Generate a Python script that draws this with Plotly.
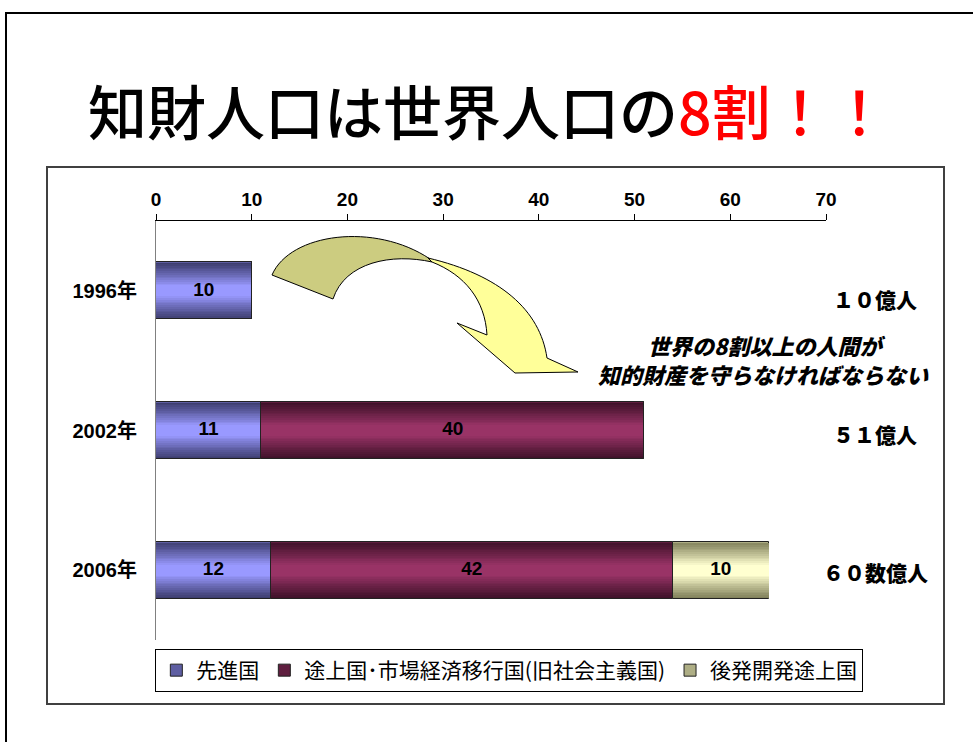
import plotly.graph_objects as go

# ---- data -------------------------------------------------------------
years = ["1996年", "2002年", "2006年"]
series_names = ["先進国", "途上国･市場経済移行国(旧社会主義国)", "後発開発途上国"]
developed = [10, 11, 12]
developing = [0, 40, 42]
least_developed = [0, 0, 10]
totals_text = ["１０億人", "５１億人", "６０数億人"]
tick_vals = [0, 10, 20, 30, 40, 50, 60, 70]

title_black = "知財人口は世界人口の"
title_red = "8割！！"
message_lines = ["世界の8割以上の人間が", "知的財産を守らなければならない"]

# ---- styling ----------------------------------------------------------
W, H = 973, 742
L, R, T, B = 156, 826, 221, 640          # plot-area pixel bounds
edge_cols = [(62, 62, 112), (64, 18, 42), (130, 130, 92)]
mid_cols = [(153, 153, 255), (153, 51, 102), (255, 255, 208)]
BAR_W = 0.41
N_LAYERS = 16
CJK = "Noto Sans CJK JP"
LATIN = "Liberation Sans, Noto Sans CJK JP"


def px(xp):
    return (xp - L) / (R - L)


def py(yp):
    return (B - yp) / (B - T)


def mix(a, b, t):
    return "rgb({},{},{})".format(*[round(a[i] + (b[i] - a[i]) * t) for i in range(3)])


def ramp(s):
    return min(1.0, s / 0.8) ** 1.1


fig = go.Figure()

series_vals = [developed, developing, least_developed]
bases = []
running = [0] * len(years)
for vals in series_vals:
    bases.append(list(running))
    running = [running[i] + vals[i] for i in range(len(years))]

# stacked bars, each drawn as nested bands to give a shaded cylinder look
for si, (name, vals) in enumerate(zip(series_names, series_vals)):
    for k in range(N_LAYERS):
        s = k / N_LAYERS
        t = 0.35 if k == 0 else ramp(s)
        fig.add_trace(go.Bar(
            y=years, x=vals, base=bases[si], orientation="h",
            width=BAR_W * (1 - s),
            marker=dict(color=mix(edge_cols[si], mid_cols[si], t),
                        line=dict(color="#222222", width=1 if k == 0 else 0)),
            name=name, legendgroup=name, showlegend=(k == 0),
            hoverinfo="skip",
        ))
        if k == 0:
            # darkest rim just inside the outline
            fig.add_trace(go.Bar(
                y=years, x=vals, base=bases[si], orientation="h",
                width=BAR_W * (1 - 0.5 / N_LAYERS) - 0.002,
                marker=dict(color=mix(edge_cols[si], mid_cols[si], 0.0), line=dict(width=0)),
                legendgroup=name, showlegend=False, hoverinfo="skip",
            ))

# value labels centred on each segment
for si, vals in enumerate(series_vals):
    xs, ys, txt = [], [], []
    for i, v in enumerate(vals):
        if v > 0:
            xs.append(bases[si][i] + v / 2)
            ys.append(years[i])
            txt.append(str(v))
    fig.add_trace(go.Scatter(
        x=xs, y=ys, text=txt, mode="text",
        textfont=dict(family=LATIN, size=19, color="black", weight="bold"),
        showlegend=False, hoverinfo="skip",
    ))

# ---- decorations ------------------------------------------------------
def path(cmds):
    out = []
    for c in cmds:
        if isinstance(c, str):
            out.append(c)
        else:
            out.append(f"{px(c[0]):.5f},{py(c[1]):.5f}")
    return " ".join(out)


back_face = path(["M", (272, 275), "C", (290, 233), (375, 222), (430, 259),
                  "L", (432, 262), "C", (392, 253), (345, 262), (333, 299), "Z"])
front_face = path(["M", (428, 258), "C", (500, 275), (540, 310), (547, 358),
                   "L", (578, 372), "L", (515, 373), "L", (457, 323), "L", (487, 335),
                   "C", (485, 300), (465, 275), (432, 262), "Z"])

shapes = [
    dict(type="rect", xref="paper", yref="paper", x0=px(6), x1=px(995), y0=py(13), y1=py(770),
         line=dict(color="black", width=2), fillcolor="rgba(0,0,0,0)", layer="below"),
    dict(type="rect", xref="paper", yref="paper", x0=px(47), x1=px(944), y0=py(167), y1=py(704),
         line=dict(color="#404040", width=2), fillcolor="rgba(0,0,0,0)", layer="below"),
    dict(type="path", xref="paper", yref="paper", path=back_face,
         fillcolor="#CCCC80", line=dict(color="black", width=1), layer="above"),
    dict(type="path", xref="paper", yref="paper", path=front_face,
         fillcolor="#FFFF99", line=dict(color="black", width=1), layer="above"),
]

annotations = [
    dict(xref="paper", yref="paper", x=px(488), y=py(110), xanchor="center", yanchor="middle",
         text=f"{title_black}<span style='color:#FF0000'>{title_red}</span>",
         showarrow=False, font=dict(family=CJK, size=59, color="black", weight=500)),
]
for line, (cx, cy) in zip(message_lines, [(766, 345), (763, 374)]):
    annotations.append(dict(xref="paper", yref="paper", x=px(cx), y=py(cy),
                            xanchor="center", yanchor="middle", text=f"<i>{line}</i>",
                            showarrow=False,
                            font=dict(family=CJK, size=22, color="black", weight=900)))
label_dy = [-8, -3, -2]
for i, t in enumerate(totals_text):
    annotations.append(dict(xref="paper", yref="y", x=px(875), y=i, yshift=label_dy[i],
                            xanchor="center", yanchor="middle", text=t,
                            showarrow=False,
                            font=dict(family=CJK, size=21, color="black", weight=900)))

fig.update_layout(
    width=W, height=H,
    margin=dict(l=L, r=W - R, t=T, b=H - B, pad=0, autoexpand=False),
    paper_bgcolor="white", plot_bgcolor="white",
    barmode="overlay", bargap=0,
    shapes=shapes, annotations=annotations,
    showlegend=True,
    legend=dict(orientation="h", x=-0.001, y=py(649), xanchor="left", yanchor="top",
                bordercolor="black", borderwidth=1, bgcolor="white",
                font=dict(family=CJK, size=21, color="black"),
                traceorder="normal", itemclick=False, itemdoubleclick=False),
    xaxis=dict(range=[0, 70], tickvals=tick_vals, side="top", showgrid=False, zeroline=False,
               showline=True, linecolor="black", linewidth=1, ticks="outside", ticklen=6,
               tickcolor="black",
               tickfont=dict(family=LATIN, size=19, color="black", weight="bold"),
               fixedrange=True),
    yaxis=dict(range=[2.5, -0.5], type="category", categoryorder="array", categoryarray=years,
               showgrid=False, zeroline=False, showline=True, linecolor="#808080", linewidth=1,
               ticks="", ticklabelstandoff=14,
               tickfont=dict(family=LATIN, size=20, color="black", weight="bold"),
               fixedrange=True),
)

fig.write_html("out.html")
